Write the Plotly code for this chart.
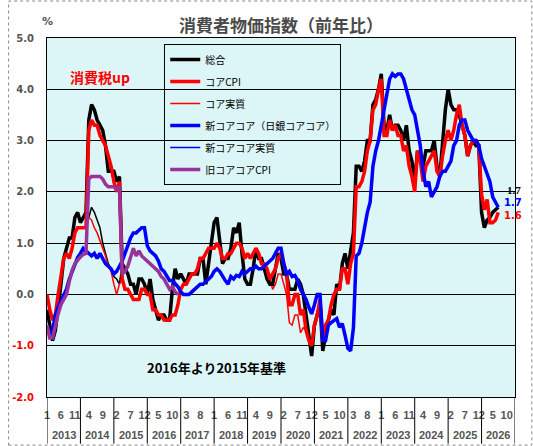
import plotly.graph_objects as go

# 月次データ 2013年1月〜2026年7月 (前年比, %)
sogo = [
    -0.3, -0.6, -0.9, -0.7, -0.3, 0.2, 0.7, 0.9, 1.1, 1.1, 1.5, 1.6,    # 2013
    1.4, 1.5, 1.6, 3.4, 3.7, 3.6, 3.4, 3.3, 3.2, 2.9, 2.4, 2.4,         # 2014
    2.4, 2.2, 2.3, 0.6, 0.5, 0.4, 0.2, 0.2, 0.0, 0.3, 0.3, 0.2,         # 2015
    0.0, 0.3, -0.1, -0.3, -0.5, -0.4, -0.4, -0.5, -0.5, 0.1, 0.5, 0.3,  # 2016
    0.4, 0.3, 0.2, 0.4, 0.4, 0.4, 0.4, 0.7, 0.7, 0.2, 0.6, 1.0,         # 2017
    1.4, 1.5, 1.1, 0.6, 0.7, 0.7, 0.9, 1.3, 1.2, 1.4, 0.8, 0.3,         # 2018
    0.2, 0.2, 0.5, 0.9, 0.7, 0.7, 0.5, 0.3, 0.2, 0.2, 0.5, 0.8,         # 2019
    0.7, 0.4, 0.4, 0.1, 0.1, 0.1, 0.3, 0.2, 0.0, -0.4, -0.9, -1.2,      # 2020
    -0.6, -0.4, -0.2, -1.1, -0.8, -0.5, -0.3, -0.4, 0.2, 0.1, 0.6, 0.8, # 2021
    0.5, 0.9, 1.2, 2.5, 2.5, 2.4, 2.6, 3.0, 3.0, 3.7, 3.8, 4.0,         # 2022
    4.3, 3.3, 3.2, 3.5, 3.2, 3.3, 3.3, 3.2, 3.0, 3.3, 2.8, 2.6,         # 2023
    2.2, 2.8, 2.7, 2.5, 2.8, 2.8, 2.8, 3.0, 2.5, 2.3, 2.9, 3.6,         # 2024
    4.0, 3.7, 3.6, 3.6, 3.5, 3.3, 3.1, 2.7, 2.9, 3.0, 2.9, 2.9,         # 2025
    1.6, 1.3, 1.45, 1.5, 1.6, 1.65, 1.7,                                # 2026
]

core = [
    0.0, -0.3, -0.5, -0.4, 0.0, 0.4, 0.7, 0.8, 0.7, 0.9, 1.2, 1.3,
    1.3, 1.3, 1.3, 3.2, 3.4, 3.3, 3.3, 3.1, 3.0, 2.9, 2.7, 2.5,
    2.2, 2.0, 2.2, 0.3, 0.1, 0.1, 0.0, -0.1, -0.1, -0.1, 0.1, 0.1,
    0.0, 0.0, -0.3, -0.3, -0.4, -0.4, -0.5, -0.5, -0.5, -0.4, -0.4, -0.2,
    0.1, 0.2, 0.2, 0.3, 0.4, 0.4, 0.5, 0.7, 0.7, 0.8, 0.9, 0.9,
    0.9, 1.0, 0.9, 0.7, 0.7, 0.8, 0.8, 0.9, 1.0, 1.0, 0.9, 0.7,
    0.8, 0.7, 0.8, 0.9, 0.8, 0.6, 0.6, 0.5, 0.3, 0.4, 0.5, 0.7,
    0.8, 0.6, 0.4, -0.2, -0.2, 0.0, 0.0, -0.4, -0.3, -0.7, -0.9, -1.0,
    -0.6, -0.4, -0.1, -0.9, -0.6, -0.5, -0.2, 0.0, 0.1, 0.1, 0.5, 0.5,
    0.2, 0.6, 0.8, 2.1, 2.1, 2.2, 2.4, 2.8, 3.0, 3.6, 3.7, 4.0,
    4.2, 3.1, 3.1, 3.4, 3.2, 3.3, 3.1, 3.1, 2.8, 2.9, 2.5, 2.3,
    2.0, 2.8, 2.6, 2.2, 2.5, 2.6, 2.7, 2.8, 2.4, 2.3, 2.7, 3.0,
    3.2, 3.0, 3.2, 3.5, 3.7, 3.3, 3.1, 2.7, 2.9, 3.0, 3.0, 2.9,
    1.95, 1.65, 1.85, 1.4, 1.4, 1.45, 1.6,
]

shin_corecore = [
    -0.6, -0.8, -0.7, -0.4, -0.25, -0.12, 0.0, 0.1, 0.3, 0.45, 0.6, 0.72,
    0.8, 0.9, 0.85, 0.8, 0.75, 0.8, 0.7, 0.8, 0.7, 0.6, 0.55, 0.5,
    0.4, 0.45, 0.55, 0.65, 0.8, 0.95, 1.1, 1.2, 1.2, 1.25, 1.3, 1.3,
    0.95, 0.85, 0.8, 0.75, 0.65, 0.5, 0.45, 0.35, 0.27, 0.27, 0.2, 0.15,
    0.05, 0.0, 0.0, 0.0, 0.05, 0.1, 0.15, 0.2, 0.2, 0.25, 0.3, 0.35,
    0.45, 0.5, 0.45, 0.35, 0.27, 0.2, 0.35, 0.3, 0.37, 0.35, 0.45, 0.4,
    0.45, 0.5, 0.5, 0.55, 0.5, 0.5, 0.55, 0.6, 0.63, 0.7, 0.8, 0.9,
    0.9, 0.6, 0.4, 0.45, 0.35, 0.37, 0.27, 0.1, 0.0, -0.1, -0.25, -0.38,
    -0.2, 0.0, 0.0, -0.9, -0.9, -0.6, -0.55, -0.5, -0.47, -0.64, -0.57, -0.8,
    -1.05, -1.1, -0.65, 0.75, 0.8, 1.0, 1.3, 1.6, 1.8, 2.5, 2.8, 3.0,
    3.3, 3.6, 3.9, 4.2, 4.3, 4.25, 4.3, 4.3, 4.2, 4.0, 3.8, 3.6,
    3.5, 3.2, 2.9, 2.4, 2.1, 2.2, 1.9, 2.0, 2.1, 2.3, 2.4, 2.4,
    2.5, 2.6, 2.9, 3.0, 3.3, 3.4, 3.4, 3.2, 3.1, 3.0, 3.0, 2.9,
    2.65, 2.5, 2.35, 2.2, 1.9, 1.8, 1.7,
]

# 旧コアコア 2013年1月〜2016年12月
kyu_corecore = [
    -0.6, -0.85, -0.85, -0.6, -0.38, -0.2, -0.1, 0.0, 0.25, 0.47, 0.6, 0.67,
    0.73, 0.78, 0.8, 2.25, 2.3, 2.3, 2.3, 2.3, 2.25, 2.15, 2.1, 2.1,
    2.1, 2.05, 2.1, 0.4, 0.45, 0.55, 0.75, 0.9, 0.75, 0.85, 0.75, 0.7,
    0.66, 0.6, 0.55, 0.5, 0.45, 0.35, 0.3, 0.2, 0.1, 0.15, 0.05, 0.0,
]

# 消費税の影響を除いた系列 (2014年3月〜2015年4月, 2019年9月〜2020年10月)
sogo_real_2014 = [1.6, 1.5, 1.7, 1.6, 1.45, 1.3, 1.0, 0.8, 0.6, 0.5, 0.35, 0.3, 0.2, 0.6]
core_real_2014 = [1.3, 1.5, 1.45, 1.3, 1.2, 1.05, 0.9, 0.75, 0.55, 0.45, 0.2, 0.0, 0.2, 0.3]
core_real_2019 = [0.3, 0.1, 0.2, 0.4, 0.4, 0.2, 0.0, -0.55, -0.6, -0.4, -0.4, -0.75, -0.65, -0.7]
REAL_2014_START = 14
REAL_2019_START = 80

YEARS = [2013, 2014, 2015, 2016, 2017, 2018, 2019, 2020, 2021, 2022, 2023, 2024, 2025, 2026]
MONTH_TICKS = list(range(0, 168, 5))
MONTH_LABELS = ["1", "6", "11", "4", "9", "2", "7", "12", "5", "10", "3", "8",
                "1", "6", "11", "4", "9", "2", "7", "12", "5", "10", "3", "8",
                "1", "6", "11", "4", "9", "2", "7", "12", "5", "10"]
Y_TICKS = [-2, -1, 0, 1, 2, 3, 4, 5]

JP = "Noto Sans CJK JP"
NUM = "DejaVu Sans"
GRAY = "#555555"


def segment(start, values):
    return list(range(start, start + len(values))), values


x_all = list(range(len(sogo)))
x_s14, y_s14 = segment(REAL_2014_START, sogo_real_2014)
x_c14, y_c14 = segment(REAL_2014_START, core_real_2014)
x_c19, y_c19 = segment(REAL_2019_START, core_real_2019)

fig = go.Figure()
fig.add_trace(go.Scatter(x=x_s14, y=y_s14, mode="lines", showlegend=False,
                         line=dict(color="black", width=1.5)))
fig.add_trace(go.Scatter(x=x_c14 + [None] + x_c19, y=y_c14 + [None] + y_c19,
                         mode="lines", name="コア実質", legendrank=3, legendgroup="c",
                         line=dict(color="red", width=1.5)))
fig.add_trace(go.Scatter(x=x_all, y=sogo, mode="lines", name="総合", legendrank=1,
                         legendgroup="a", line=dict(color="black", width=3.5)))
fig.add_trace(go.Scatter(x=x_all, y=core, mode="lines", name="コアCPI", legendrank=2,
                         legendgroup="b", line=dict(color="red", width=3.5)))
fig.add_trace(go.Scatter(x=x_all, y=shin_corecore, mode="lines", name="新コアコア（日銀コアコア）",
                         legendrank=4, legendgroup="d", line=dict(color="blue", width=3.5)))
fig.add_trace(go.Scatter(x=[None], y=[None], mode="lines", name="新コアコア実質", legendrank=5,
                         legendgroup="e", line=dict(color="blue", width=1.5)))
fig.add_trace(go.Scatter(x=list(range(len(kyu_corecore))), y=kyu_corecore, mode="lines",
                         name="旧コアコアCPI", legendrank=6, legendgroup="f",
                         line=dict(color="#993399", width=3.5)))

ytext = []
for v in Y_TICKS:
    if v < 0:
        ytext.append('<span style="color:red">%.1f</span>' % v)
    else:
        ytext.append("%.1f" % v)

fig.update_layout(
    width=533, height=446,
    margin=dict(l=40, r=18, t=38, b=49),
    paper_bgcolor="white",
    plot_bgcolor="#dcf5f6",
    title=dict(text="消費者物価指数（前年比）", x=0.5, xref="paper", xanchor="center",
               y=0.955, yref="container",
               font=dict(family=JP, size=17, color="#4a4a4a", weight="bold")),
    legend=dict(x=0.2505, y=0.983, xanchor="left", yanchor="top",
                bgcolor="rgba(0,0,0,0)", bordercolor="black", borderwidth=1,
                font=dict(family=JP, size=10, color="black"),
                tracegroupgap=3, traceorder="grouped"),
    showlegend=True,
)

fig.update_xaxes(range=[0, 168], tickvals=MONTH_TICKS, ticktext=MONTH_LABELS,
                 ticks="outside", ticklen=8, tickcolor="rgba(0,0,0,0)",
                 tickfont=dict(family="Liberation Sans", size=11, color=GRAY, weight="bold"),
                 showgrid=False, zeroline=False,
                 showline=True, mirror=True, linecolor="black", linewidth=1)
fig.update_yaxes(range=[-2, 5], tickvals=Y_TICKS, ticktext=ytext,
                 ticks="outside", ticklen=10, tickcolor="rgba(0,0,0,0)",
                 tickfont=dict(family=NUM, size=10, color=GRAY, weight="bold"),
                 showgrid=True, gridcolor="black", gridwidth=1, zeroline=False,
                 showline=True, mirror=True, linecolor="black", linewidth=1)

# 年の区切りと年ラベル
for k, yr in enumerate(YEARS):
    fig.add_shape(type="line", xref="x", yref="paper", x0=12 * k, x1=12 * k, y0=0, y1=-0.13,
                  line=dict(color="black", width=1))
    fig.add_annotation(x=12 * k + 6, y=-0.106, xref="x", yref="paper", yanchor="middle",
                       text=str(yr), showarrow=False,
                       font=dict(family="Liberation Sans", size=11, color=GRAY, weight="bold"))
fig.add_shape(type="line", xref="x", yref="paper", x0=168, x1=168, y0=0, y1=-0.13,
              line=dict(color="black", width=1))

# 外枠 (点線)
fig.add_shape(type="rect", xref="paper", yref="paper", x0=-0.082, x1=1.036, y0=-0.134, y1=1.103,
              line=dict(color="#888888", width=1, dash="dot"))

fig.add_annotation(x=0.002, y=1.045, xref="paper", yref="paper", xanchor="center",
                   yanchor="middle", text="%", showarrow=False,
                   font=dict(family=NUM, size=11, color=GRAY, weight="bold"))
fig.add_annotation(x=0.114, y=0.891, xref="paper", yref="paper", xanchor="center",
                   yanchor="middle", text="消費税up", showarrow=False,
                   font=dict(family=JP, size=14, color="red", weight="bold"))
fig.add_annotation(x=0.362, y=0.081, xref="paper", yref="paper", xanchor="center",
                   yanchor="middle", text="2016年より2015年基準", showarrow=False,
                   font=dict(family=JP, size=13, color="black", weight="bold"))

# 最新値ラベル
last = len(sogo) - 1
fig.add_annotation(x=last + 2.5, y=2.03, xref="x", yref="y", xanchor="left", showarrow=False,
                   text="%.1f" % sogo[-1], font=dict(family="Liberation Serif", size=11,
                                                     color="black", weight="bold"))
fig.add_annotation(x=last + 1.5, y=1.79, xref="x", yref="y", xanchor="left", showarrow=False,
                   text="%.1f" % shin_corecore[-1], font=dict(family=NUM, size=10,
                                                              color="blue", weight="bold"))
fig.add_annotation(x=last + 1.2, y=1.53, xref="x", yref="y", xanchor="left", showarrow=False,
                   text="%.1f" % core[-1], font=dict(family=NUM, size=10,
                                                     color="red", weight="bold"))

fig.write_html("out.html", config={"displayModeBar": False},
               post_script="document.body.style.margin='0';")
